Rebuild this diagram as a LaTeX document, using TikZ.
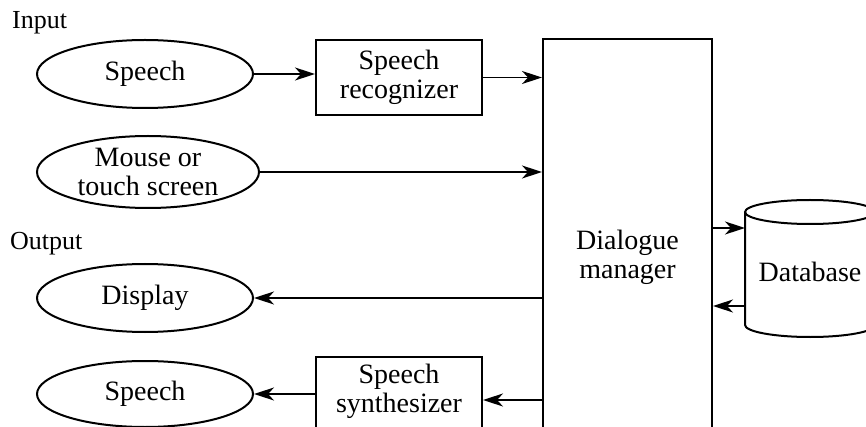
\documentclass[tikz,border=0pt]{standalone}
\usepackage{fontspec}
\setmainfont{Liberation Serif}
\usetikzlibrary{shapes.geometric,arrows.meta}

\tikzset{
  lbl/.style={font=\fontsize{28}{29}\selectfont, align=center, inner sep=0pt},
  oval/.style={ellipse, draw, line width=2pt, inner sep=0pt, lbl},
  unit/.style={rectangle, draw, line width=2pt, inner sep=0pt},
  flow/.style={line width=1.8pt, -{Stealth[length=20pt, width=13pt, inset=6pt]}},
  heading/.style={font=\fontsize{26}{28}\selectfont, anchor=base west, inner sep=0pt}
}

\begin{document}
\begin{tikzpicture}[x=1pt, y=-1pt]
  \useasboundingbox (0,0) rectangle (866,427);
  \clip (0,0) rectangle (866,427);

  % section headings
  \node[heading] (hin)  at (12,29)  {Input};
  \node[heading] (hout) at (10,250) {Output};

  % input devices
  \node[oval, minimum width=216pt, minimum height=68pt] (inspeech) at (145,74) {Speech};
  \node[oval, minimum width=222pt, minimum height=72pt] (mouse) at (148,172) {Mouse or\\touch screen};

  % output devices
  \node[oval, minimum width=216pt, minimum height=68pt] (display) at (145,298) {Display};
  \node[oval, minimum width=216pt, minimum height=66pt] (outspeech) at (145,394) {Speech};

  % processing units
  \node[unit, lbl, minimum width=166pt, minimum height=75pt] (recog) at (399,77.5) {Speech\\recognizer};
  \node[unit, minimum width=166pt, minimum height=86pt] (synth) at (399,400) {};
  \node[lbl] (synthtxt) at (399,391) {Speech\\synthesizer};

  % dialogue manager column (runs past the lower edge)
  \node[unit, minimum width=169pt, minimum height=420pt] (dm) at (627.5,249) {};
  \node[lbl] (dmtxt) at (627.5,257) {Dialogue\\manager};

  % database cylinder
  \node[minimum width=130pt, minimum height=137pt, inner sep=0pt] (db) at (810,268.5) {};
  \draw[line width=2pt] (745,212) -- (745,325)
        arc[start angle=180, end angle=0, x radius=65, y radius=12] -- (875,212);
  \draw[line width=2pt] (810,212) ellipse[x radius=65, y radius=12];
  \node[lbl] (dbtxt) at (810,272) {Database};
  \coordinate (dbin)  at (745,228);
  \coordinate (dbout) at (745,306);

  % connectors
  \draw[flow] (inspeech.east) -- (inspeech.east -| recog.west);
  \draw[flow] (recog.east) -- (recog.east -| dm.west);
  \draw[flow] (mouse.east) -- (mouse.east -| dm.west);
  \draw[flow] (dm.west |- display.east) -- (display.east);
  \draw[flow] (dm.west |- synth.east) -- (synth.east);
  \draw[flow] (synth.west |- outspeech.east) -- (outspeech.east);
  \draw[flow] (dm.east |- dbin) -- (dbin);
  \draw[flow] (dbout) -- (dm.east |- dbout);
\end{tikzpicture}
\end{document}
